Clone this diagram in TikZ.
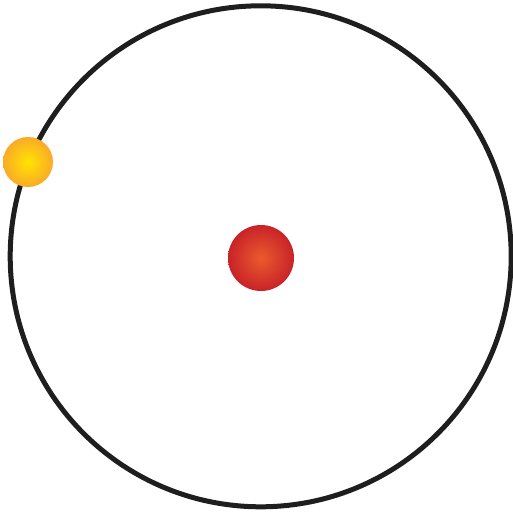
\documentclass[tikz,border=0pt]{standalone}
\begin{document}
\begin{tikzpicture}[x=1pt,y=-1pt]
\definecolor{redin}{RGB}{235,90,45}
\definecolor{redout}{RGB}{200,35,40}
\definecolor{yelin}{RGB}{255,228,0}
\definecolor{yelout}{RGB}{250,170,40}
\definecolor{ringc}{RGB}{30,30,30}
\tikzset{orbit/.style={draw=ringc,line width=5pt},
  ball/.style={circle,inner sep=0pt,shading=radial}}
\useasboundingbox (0,0) rectangle (513,515);
\draw[orbit] (260.7,256.3) circle (250.5);
\node[ball,minimum size=66pt,inner color=redin,outer color=redout] (nucleus) at (261,258) {};
\node[ball,minimum size=50pt,inner color=yelin,outer color=yelout] (planet) at (28,162) {};
\end{tikzpicture}
\end{document}
